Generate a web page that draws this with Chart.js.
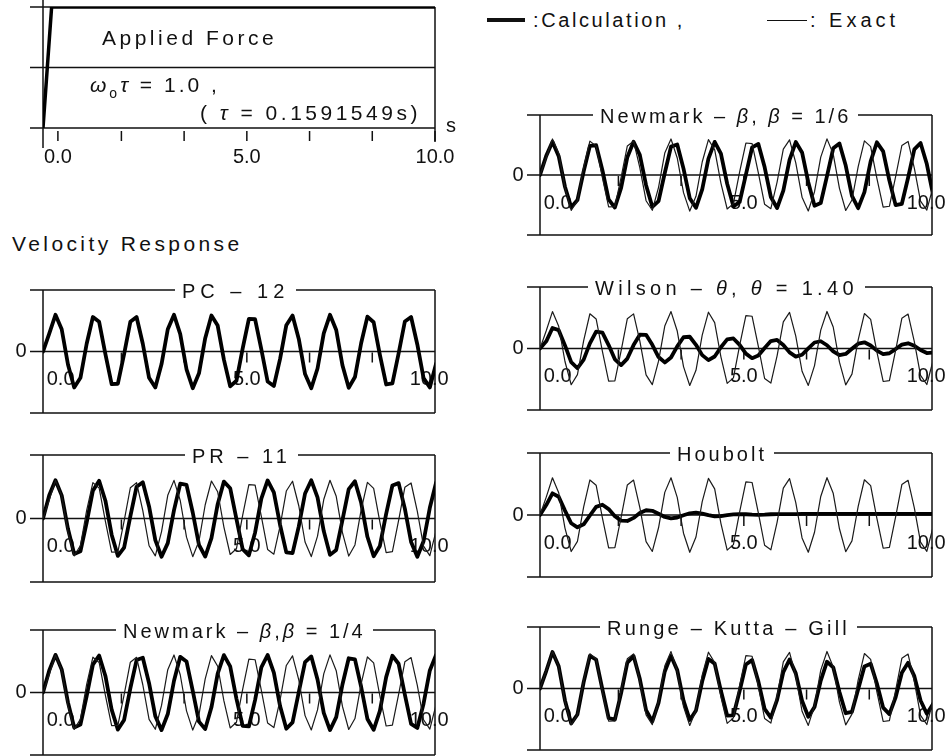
<!DOCTYPE html>
<html>
<head>
<meta charset="utf-8">
<script src="https://cdn.jsdelivr.net/npm/chart.js@4.4.0/dist/chart.umd.min.js"></script>
<style>
body { margin: 0; background: #fff; }
#page { position: relative; width: 950px; height: 756px; overflow: hidden; font-family: "Liberation Sans", Arial, sans-serif; color: #111; }
#page canvas { position: absolute; }
.txt { position: absolute; font-size: 20px; line-height: 1; white-space: nowrap; transform: translateY(-50%); z-index: 5; }
.ttl { background: #fff; padding: 0 7px; }
.big { font-size: 21px; }
.leg { position: absolute; background: #111; z-index: 5; }
</style>
</head>
<body>
<div id="page">
  <canvas id="force" width="470" height="170" style="left:0px;top:0px"></canvas>
  <canvas id="pc12" width="470" height="147" style="left:0px;top:278px"></canvas>
  <canvas id="pr11" width="470" height="151" style="left:0px;top:443px"></canvas>
  <canvas id="nm14" width="470" height="149" style="left:0px;top:618px"></canvas>
  <canvas id="nm16" width="472" height="144" style="left:478px;top:103px"></canvas>
  <canvas id="wilson" width="472" height="147" style="left:478px;top:275px"></canvas>
  <canvas id="houbolt" width="472" height="148" style="left:478px;top:441px"></canvas>
  <canvas id="rkg" width="472" height="147" style="left:478px;top:615px"></canvas>

  <div class="leg" style="left:487px;top:18px;width:38px;height:4px"></div>
  <div class="txt" style="left:533px;top:20px;letter-spacing:2.6px">:Calculation ,</div>
  <div class="leg" style="left:767px;top:19.5px;width:40px;height:1.3px"></div>
  <div class="txt" style="left:810px;top:20px;letter-spacing:4px">: Exact</div>

  <div class="txt big" style="left:102px;top:37px;letter-spacing:3.5px">Applied Force</div>
  <div class="txt big" style="left:90px;top:87px;letter-spacing:3px"><i>ω</i><sub style="font-size:14px">o</sub><i>τ</i> = 1.0 ,</div>
  <div class="txt big" style="left:200px;top:112px;letter-spacing:3.5px">( <i>τ</i> = 0.1591549s)</div>
  <div class="txt big" style="left:12px;top:243px;letter-spacing:3.4px">Velocity Response</div>

  <div class="txt ttl" style="left:175px;top:291px;letter-spacing:5px">PC – 12</div>
  <div class="txt ttl" style="left:185px;top:456px;letter-spacing:4px">PR – 11</div>
  <div class="txt ttl" style="left:116px;top:631px;letter-spacing:3px">Newmark – <i>β</i>,<i>β</i> = 1/4</div>
  <div class="txt ttl" style="left:593px;top:116px;letter-spacing:3px">Newmark – <i>β</i>, <i>β</i> = 1/6</div>
  <div class="txt ttl" style="left:588px;top:288px;letter-spacing:4.3px">Wilson – <i>θ</i>, <i>θ</i> = 1.40</div>
  <div class="txt ttl" style="left:670px;top:454px;letter-spacing:3px">Houbolt</div>
  <div class="txt ttl" style="left:600px;top:628px;letter-spacing:3.2px">Runge – Kutta – Gill</div>
</div>
<script>
// time samples, step = tau = 0.1591549 s
const times = [0, 0.159, 0.318, 0.477, 0.637, 0.796, 0.955, 1.114, 1.273, 1.432,
  1.592, 1.751, 1.910, 2.069, 2.228, 2.387, 2.546, 2.706, 2.865, 3.024,
  3.183, 3.342, 3.501, 3.661, 3.820, 3.979, 4.138, 4.297, 4.456, 4.615,
  4.775, 4.934, 5.093, 5.252, 5.411, 5.570, 5.730, 5.889, 6.048, 6.207,
  6.366, 6.525, 6.685, 6.844, 7.003, 7.162, 7.321, 7.480, 7.639, 7.799,
  7.958, 8.117, 8.276, 8.435, 8.594, 8.754, 8.913, 9.072, 9.231, 9.390,
  9.549, 9.708, 9.868, 10.027];

const exactV = [0, 0.479, 0.997, 0.598, -0.351, -0.978, -0.706, 0.215, 0.938, 0.798,
  -0.075, -0.880, -0.875, -0.066, 0.804, 0.935, 0.206, -0.712, -0.976, -0.342,
  0.606, 0.997, 0.471, -0.488, -0.998, -0.589, 0.360, 0.980, 0.699, -0.224,
  -0.941, -0.792, 0.084, 0.885, 0.870, 0.057, -0.810, -0.932, -0.197, 0.718,
  0.974, 0.333, -0.614, -0.996, -0.462, 0.496, 0.999, 0.580, -0.369, -0.982,
  -0.692, 0.233, 0.944, 0.786, -0.093, -0.890, -0.865, -0.048, 0.816, 0.928,
  0.188, -0.724, -0.972, -0.325];

const pc12V = [0, 0.48, 0.99, 0.60, -0.35, -0.97, -0.71, 0.21, 0.93, 0.80,
  -0.07, -0.88, -0.87, -0.07, 0.80, 0.93, 0.21, -0.71, -0.97, -0.34,
  0.60, 0.99, 0.47, -0.48, -0.99, -0.59, 0.36, 0.97, 0.70, -0.22,
  -0.94, -0.79, 0.08, 0.88, 0.87, 0.06, -0.81, -0.93, -0.20, 0.71,
  0.97, 0.34, -0.61, -0.99, -0.46, 0.49, 0.99, 0.58, -0.37, -0.98,
  -0.69, 0.23, 0.94, 0.79, -0.09, -0.89, -0.86, -0.05, 0.81, 0.93,
  0.19, -0.72, -0.97, -0.33];

const pr11V = [0, 0.606, 1.000, 0.604, -0.269, -0.930, -0.857, -0.106, 0.728, 0.986,
  0.465, -0.423, -0.977, -0.761, 0.058, 0.830, 0.946, 0.315, -0.565, -0.999,
  -0.643, 0.219, 0.909, 0.881, 0.157, -0.692, -0.994, -0.511, 0.375, 0.965,
  0.792, -0.007, -0.800, -0.962, -0.363, 0.522, 0.995, 0.682, -0.169, -0.887,
  -0.904, -0.207, 0.654, 0.998, 0.554, -0.328, -0.951, -0.822, -0.044, 0.769,
  0.974, 0.410, -0.478, -0.988, -0.718, 0.120, 0.863, 0.925, 0.257, -0.615,
  -1.000, -0.595, 0.279, 0.933];

const nm14V = [0, 0.587, 1.000, 0.614, -0.263, -0.930, -0.853, -0.094, 0.740, 0.982,
  0.440, -0.455, -0.985, -0.729, 0.112, 0.862, 0.923, 0.247, -0.627, -0.999,
  -0.572, 0.312, 0.947, 0.825, 0.043, -0.773, -0.972, -0.393, 0.500, 0.993,
  0.692, -0.162, -0.887, -0.902, -0.197, 0.666, 0.996, 0.530, -0.360, -0.962,
  -0.795, 0.008, 0.804, 0.958, 0.345, -0.543, -0.998, -0.654, 0.212, 0.909,
  0.879, 0.146, -0.703, -0.991, -0.486, 0.408, 0.975, 0.763, -0.059, -0.834,
  -0.942, -0.297, 0.585, 1.000];

const nm16V = [0, 0.529, 0.920, 0.521, -0.325, -0.892, -0.695, 0.099, 0.807, 0.823,
  0.133, -0.672, -0.900, -0.357, 0.493, 0.919, 0.556, -0.283, -0.880, -0.722,
  0.055, 0.785, 0.842, 0.176, -0.641, -0.908, -0.396, 0.455, 0.916, 0.590,
  -0.242, -0.867, -0.748, 0.012, 0.762, 0.858, 0.219, -0.609, -0.914, -0.434,
  0.418, 0.912, 0.623, -0.199, -0.851, -0.774, -0.031, 0.737, 0.873, 0.261,
  -0.576, -0.918, -0.473, 0.378, 0.904, 0.654, -0.156, -0.834, -0.796, -0.075,
  0.709, 0.886, 0.303, -0.541];

const wilsonV = [0, 0.193, 0.553, 0.495, 0.082, -0.370, -0.533, -0.302, 0.137, 0.454,
  0.428, 0.093, -0.292, -0.448, -0.272, 0.092, 0.371, 0.369, 0.099, -0.230,
  -0.376, -0.243, 0.059, 0.304, 0.317, 0.100, -0.179, -0.314, -0.216, 0.034,
  0.247, 0.271, 0.098, -0.138, -0.262, -0.191, 0.015, 0.200, 0.231, 0.094,
  -0.105, -0.218, -0.168, 0.001, 0.162, 0.196, 0.088, -0.079, -0.181, -0.147,
  -0.008, 0.129, 0.167, 0.082, -0.058, -0.150, -0.128, -0.015, 0.104, 0.141,
  0.075, -0.042, -0.123, -0.111];

const houboltV = [0, 0.267, 0.580, 0.488, 0.118, -0.220, -0.330, -0.250, -0.014, 0.217,
  0.275, 0.158, -0.034, -0.150, -0.160, -0.078, 0.052, 0.127, 0.112, 0.033,
  -0.052, -0.090, -0.067, -0.007, 0.046, 0.062, 0.038, -0.005, -0.037, -0.030,
  -0.005, 0.015, 0.025, 0.020, 0.010, 0.005, 0.010, 0.020, 0.025, 0.025,
  0.025, 0.025, 0.030, 0.030, 0.030, 0.030, 0.030, 0.030, 0.030, 0.030,
  0.030, 0.030, 0.030, 0.030, 0.030, 0.030, 0.030, 0.030, 0.030, 0.030,
  0.030, 0.030, 0.030, 0.030];

const rkgV = [0, 0.472, 0.985, 0.600, -0.323, -0.943, -0.701, 0.171, 0.879, 0.781,
  -0.022, -0.796, -0.840, -0.124, 0.697, 0.875, 0.261, -0.583, -0.889, -0.386,
  0.459, 0.880, 0.496, -0.329, -0.849, -0.593, 0.196, 0.798, 0.671, -0.063,
  -0.730, -0.728, -0.067, 0.646, 0.767, 0.192, -0.549, -0.784, -0.308, 0.444,
  0.783, 0.409, -0.330, -0.762, -0.499, 0.213, 0.723, 0.572, -0.094, -0.667,
  -0.629, -0.023, 0.597, 0.670, 0.134, -0.516, -0.691, -0.239, 0.424, 0.695,
  0.334, -0.325, -0.682, -0.417];

// applied force: ramp then constant
const forceT = [0, 0.22, 10];
const forceV = [0, 1, 1];

// axis ticks and labels (seconds)
const tickT = [0.38, 2.0, 3.6, 5.2, 6.8, 8.4, 10.0];
const forceLabelT = [0.38, 5.2, 10.0];
const respLabelT = [0.45, 5.2, 9.85];
const labelText = ['0.0', '5.0', '10.0'];

function toXY(xs, ys) {
  return xs.map((x, i) => ({ x: x, y: ys[i] }));
}

const framePlugin = {
  id: 'frame',
  beforeDatasetsDraw(chart, args, o) {
    const ctx = chart.ctx;
    const a = chart.chartArea;
    const x = chart.scales.x;
    const y = chart.scales.y;
    ctx.save();
    ctx.strokeStyle = '#111';
    ctx.lineWidth = 1.5;
    ctx.beginPath();
    o.hLines.forEach((v) => {
      const py = y.getPixelForValue(v);
      ctx.moveTo(a.left - 13, py);
      ctx.lineTo(a.right, py);
    });
    ctx.moveTo(a.left, a.top - o.leftUp);
    ctx.lineTo(a.left, a.bottom + o.leftDown);
    ctx.moveTo(a.right, a.top);
    ctx.lineTo(a.right, a.bottom + o.rightDown);
    ctx.stroke();

    const axisY = y.getPixelForValue(o.axisAt);
    ctx.beginPath();
    o.ticks.forEach((t) => {
      const px = x.getPixelForValue(t);
      ctx.moveTo(px, axisY + o.tickGap);
      ctx.lineTo(px, axisY + o.tickGap + 10);
    });
    ctx.stroke();

    ctx.fillStyle = '#111';
    ctx.font = '20px "Liberation Sans", Arial, sans-serif';
    ctx.textAlign = 'center';
    ctx.textBaseline = 'middle';
    o.labelT.forEach((t, i) => {
      ctx.fillText(labelText[i], x.getPixelForValue(t), axisY + o.labelDy);
    });
    if (o.zeroLabel) {
      ctx.fillText('0', a.left - 22, axisY);
    }
    if (o.unit) {
      ctx.fillText(o.unit, a.right + 16, axisY - 2);
    }
    ctx.restore();
  }
};

function baseOptions(pad, ymin, ymax, frame) {
  return {
    responsive: false,
    animation: false,
    layout: { padding: pad },
    plugins: { legend: { display: false }, tooltip: { enabled: false }, frame: frame },
    scales: {
      x: { type: 'linear', min: 0, max: 10, display: false },
      y: { min: ymin, max: ymax, display: false }
    }
  };
}

function responsePanel(id, calc, side) {
  const pad = side === 'left'
    ? { left: 43, right: 35, top: 12, bottom: 12 }
    : { left: 62, right: 18, top: 12, bottom: 12 };
  const datasets = [];
  if (calc !== pc12V) {
    datasets.push({ data: toXY(times, exactV), borderColor: '#1a1a1a', borderWidth: 1.2,
      pointRadius: 0, tension: 0, borderJoinStyle: 'round' });
  }
  datasets.push({ data: toXY(times, calc), borderColor: '#000', borderWidth: 3.8,
    pointRadius: 0, tension: 0, borderJoinStyle: 'round', borderCapStyle: 'round' });
  new Chart(document.getElementById(id), {
    type: 'line',
    data: { datasets: datasets },
    options: baseOptions(pad, -1.66, 1.66, {
      hLines: [1.66, 0, -1.66], leftUp: 0, leftDown: 0, rightDown: 0,
      axisAt: 0, ticks: tickT.slice(1, -1), tickGap: 1, labelT: respLabelT, labelDy: 28,
      zeroLabel: true
    }),
    plugins: [framePlugin]
  });
}

new Chart(document.getElementById('force'), {
  type: 'line',
  data: { datasets: [{ data: toXY(forceT, forceV), borderColor: '#000', borderWidth: 3.5,
    pointRadius: 0, tension: 0 }] },
  options: baseOptions({ left: 43, right: 35, top: 7, bottom: 42 }, 0, 1, {
    hLines: [1, 0.5, 0], leftUp: 7, leftDown: 20, rightDown: 14,
    axisAt: 0, ticks: tickT, tickGap: 3, labelT: forceLabelT, labelDy: 29,
    zeroLabel: false, unit: 's'
  }),
  plugins: [framePlugin]
});

responsePanel('pc12', pc12V, 'left');
responsePanel('pr11', pr11V, 'left');
responsePanel('nm14', nm14V, 'left');
responsePanel('nm16', nm16V, 'right');
responsePanel('wilson', wilsonV, 'right');
responsePanel('houbolt', houboltV, 'right');
responsePanel('rkg', rkgV, 'right');
</script>
</body>
</html>
